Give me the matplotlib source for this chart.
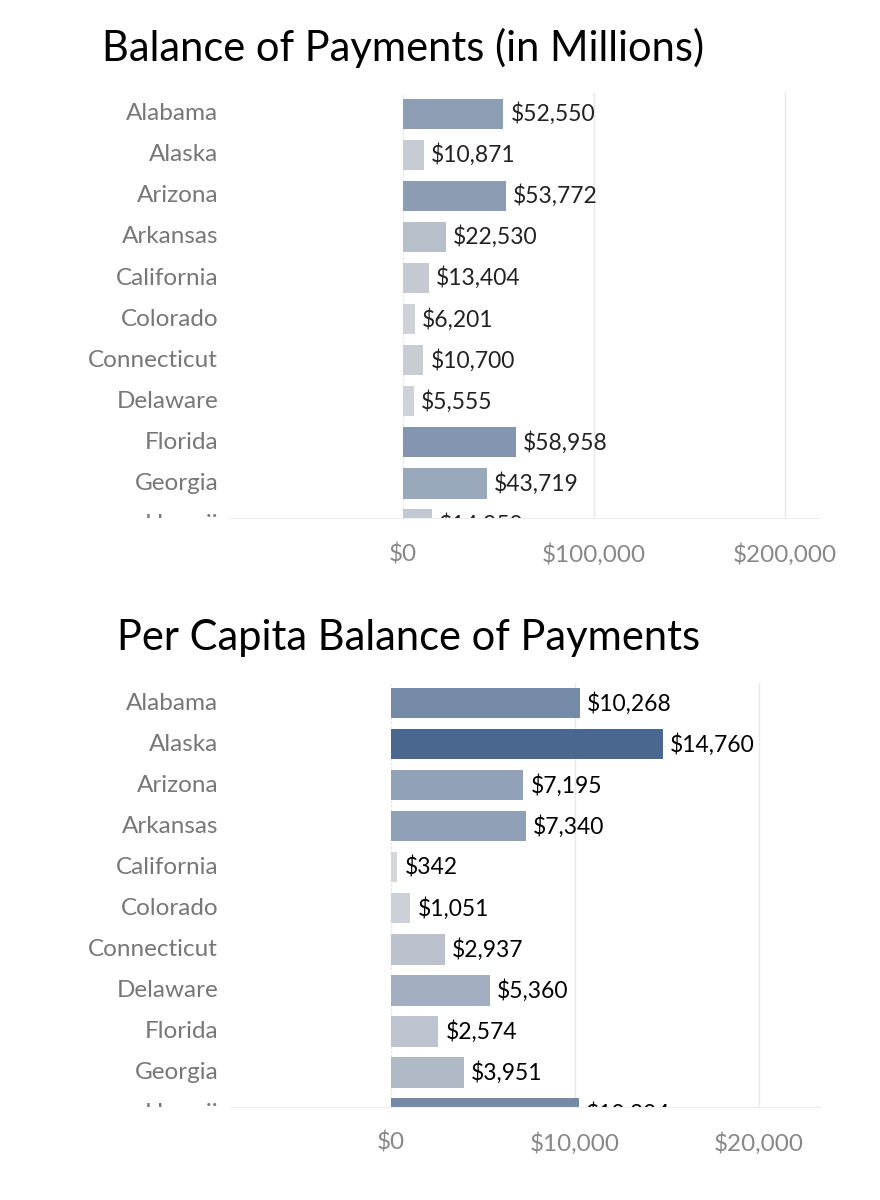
import matplotlib
matplotlib.use("Agg")
import matplotlib.pyplot as plt
from matplotlib.colors import LinearSegmentedColormap, Normalize
from matplotlib.transforms import Bbox

plt.rcParams['font.family'] = ['Lato', 'DejaVu Sans']

states = ["Alabama", "Alaska", "Arizona", "Arkansas", "California", "Colorado",
          "Connecticut", "Delaware", "Florida", "Georgia", "Hawaii"]
balance = [52550, 10871, 53772, 22530, 13404, 6201, 10700, 5555, 58958, 43719, 14950]
per_capita = [10268, 14760, 7195, 7340, 342, 1051, 2937, 5360, 2574, 3951, 10204]

cmap = LinearSegmentedColormap.from_list("c", ["#d6d8dc", "#3e5e89"])
W, H = 880, 1200
fig = plt.figure(figsize=(8.8, 12), dpi=100)

def panel(vals, title, top, bottom, xmin, xmax, ticks, ticklabels, vmax, lab_color, title_x, ytop):
    ax = fig.add_axes([230 / W, 1 - bottom / H, (820 - 230) / W, (bottom - top) / H])
    n = len(states)
    ys = list(range(n))
    norm = Normalize(0, vmax)
    ax.barh(ys, vals, height=0.75, color=[cmap(norm(v)) for v in vals], zorder=2)
    ax.set_xlim(xmin, xmax)
    ax.set_ylim(9.85, ytop)
    for t in ticks:
        ax.axvline(t, color="#e8e8e8", lw=1, zorder=1, ls=(0, (2, 1)) if t == 0 else "-")
    for s in ["top", "right", "left"]:
        ax.spines[s].set_visible(False)
    ax.spines["bottom"].set_color("#eeeeee")
    ax.set_xticks(ticks)
    ax.set_xticklabels(ticklabels, fontsize=17.5, color="#888888")
    ax.tick_params(axis="x", length=0, pad=18)
    ax.set_yticks([])
    clip = Bbox.from_extents(0, 1 - bottom / H, 1, 1)
    clipdisp = fig.transFigure.transform_bbox(clip)
    for y, s, v in zip(ys, states, vals):
        t = ax.text(-0.02, y, s, transform=ax.get_yaxis_transform(), ha="right", va="center",
                    fontsize=17.5, color="#777777", clip_on=True)
        t.set_clip_box(clipdisp)
        t2 = ax.text(v + (xmax - xmin) * 0.012, y, f"${v:,}", ha="left", va="center",
                     fontsize=16.5, color=lab_color, clip_on=True)
        t2.set_clip_box(clipdisp)
    fig.text(title_x / W, 1 - (top - 45) / H, title, fontsize=30, color="black", ha="left", va="center")

panel(balance, "Balance of Payments (in Millions)", 93, 518,
      -90600, 218300, [0, 100000, 200000], ["$0", "$100,000", "$200,000"], 110000, "#222222", 102, -0.51)
panel(per_capita, "Per Capita Balance of Payments", 683, 1107,
      -8750, 23315, [0, 10000, 20000], ["$0", "$10,000", "$20,000"], 16000, "black", 117, -0.49)

fig.savefig("out.png", dpi=100)
